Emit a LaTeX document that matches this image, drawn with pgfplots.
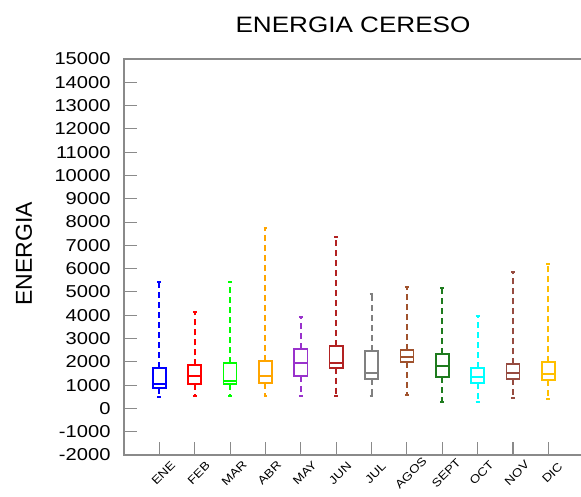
\documentclass[border=0pt]{standalone}
\usepackage{fontspec}
\setmainfont{Liberation Sans}[FakeStretch=1.17]
\newfontfamily\ylabfont{Liberation Sans}
\usepackage{pgfplots}
\pgfplotsset{compat=1.18}
\usepgfplotslibrary{statistics}
\definecolor{cENE}{HTML}{0000FF}
\definecolor{cFEB}{HTML}{FF0000}
\definecolor{cMAR}{HTML}{00FF00}
\definecolor{cABR}{HTML}{FFA500}
\definecolor{cMAY}{HTML}{9932CC}
\definecolor{cJUN}{HTML}{B22222}
\definecolor{cJUL}{HTML}{808080}
\definecolor{cAGO}{HTML}{A0522D}
\definecolor{cSEP}{HTML}{1E7B1E}
\definecolor{cOCT}{HTML}{00FFFF}
\definecolor{cNOV}{HTML}{964B40}
\definecolor{cDIC}{HTML}{FFBF00}
\definecolor{axgray}{HTML}{8A8A8A}
\begin{document}
\begin{tikzpicture}
\useasboundingbox (0pt,0pt) rectangle (581pt,496pt);
\node[font=\fontsize{22.3}{24}\selectfont] at (353pt,471.4pt) {ENERGIA CERESO};
\node[font=\ylabfont\fontsize{23}{25}\selectfont, rotate=90] at (24pt,242pt) {ENERGIA};
% values in thousands
\begin{axis}[
  at={(124pt,41pt)}, anchor=south west,
  scale only axis, width=459.7pt, height=396pt,
  xmin=0, xmax=13, ymin=-2, ymax=15,
  ytick={-2,-1,...,15},
  yticklabels={-2000,-1000,0,1000,2000,3000,4000,5000,6000,7000,8000,9000,10000,11000,12000,13000,14000,15000},
  xtick={1,...,12},
  xticklabels={ENE,FEB,MAR,ABR,MAY,JUN,JUL,AGOS,SEPT,OCT,NOV,DIC},
  tick align=inside, xtick pos=bottom, ytick pos=left,
  major tick length=13.5pt,
  axis line style={axgray, line width=1.1pt},
  every tick/.style={axgray, line width=1.1pt},
  yticklabel style={font=\fontsize{17.2}{18}\selectfont, xshift=-10pt},
  xticklabel style={font=\fontsize{11.5}{12}\selectfont, anchor=center, xshift=4pt, yshift=-18pt, rotate=45},
  boxplot/draw direction=y,
  boxplot/every whisker/.style={line width=2pt, dash pattern=on 6pt off 4pt},
  boxplot/every box/.style={line width=1.7pt},
  boxplot/every median/.style={line width=1.7pt},
  boxplot/box extend=0.37,
  boxplot/whisker extend=0.11,
]
\addplot[draw=cENE, line width=1.7pt, boxplot prepared={draw position=1, lower whisker=0.502, lower quartile=0.863, median=1.034, upper quartile=1.747, upper whisker=5.438}] coordinates {};
\addplot[draw=cFEB, line width=1.7pt, boxplot prepared={draw position=2, lower whisker=0.545, lower quartile=1.034, median=1.403, upper quartile=1.850, upper whisker=4.150}] coordinates {};
\addplot[draw=cMAR, line width=1.7pt, boxplot prepared={draw position=3, lower whisker=0.545, lower quartile=1.034, median=1.189, upper quartile=1.948, upper whisker=5.412}] coordinates {};
\addplot[draw=cABR, line width=1.7pt, boxplot prepared={draw position=4, lower whisker=0.545, lower quartile=1.090, median=1.378, upper quartile=2.034, upper whisker=7.730}] coordinates {};
\addplot[draw=cMAY, line width=1.7pt, boxplot prepared={draw position=5, lower whisker=0.545, lower quartile=1.391, median=1.948, upper quartile=2.562, upper whisker=3.936}] coordinates {};
\addplot[draw=cJUN, line width=1.7pt, boxplot prepared={draw position=6, lower whisker=0.545, lower quartile=1.747, median=1.961, upper quartile=2.678, upper whisker=7.343}] coordinates {};
\addplot[draw=cJUL, line width=1.7pt, boxplot prepared={draw position=7, lower whisker=0.545, lower quartile=1.262, median=1.532, upper quartile=2.476, upper whisker=4.910}] coordinates {};
\addplot[draw=cAGO, line width=1.7pt, boxplot prepared={draw position=8, lower whisker=0.575, lower quartile=1.991, median=2.193, upper quartile=2.506, upper whisker=5.197}] coordinates {};
\addplot[draw=cSEP, line width=1.7pt, boxplot prepared={draw position=9, lower whisker=0.288, lower quartile=1.335, median=1.820, upper quartile=2.335, upper whisker=5.155}] coordinates {};
\addplot[draw=cOCT, line width=1.7pt, boxplot prepared={draw position=10, lower whisker=0.262, lower quartile=1.090, median=1.335, upper quartile=1.734, upper whisker=3.966}] coordinates {};
\addplot[draw=cNOV, line width=1.7pt, boxplot prepared={draw position=11, lower whisker=0.459, lower quartile=1.249, median=1.506, upper quartile=1.893, upper whisker=5.867}] coordinates {};
\addplot[draw=cDIC, line width=1.7pt, boxplot prepared={draw position=12, lower whisker=0.403, lower quartile=1.206, median=1.464, upper quartile=1.979, upper whisker=6.210}] coordinates {};
\end{axis}
\end{tikzpicture}
\end{document}
